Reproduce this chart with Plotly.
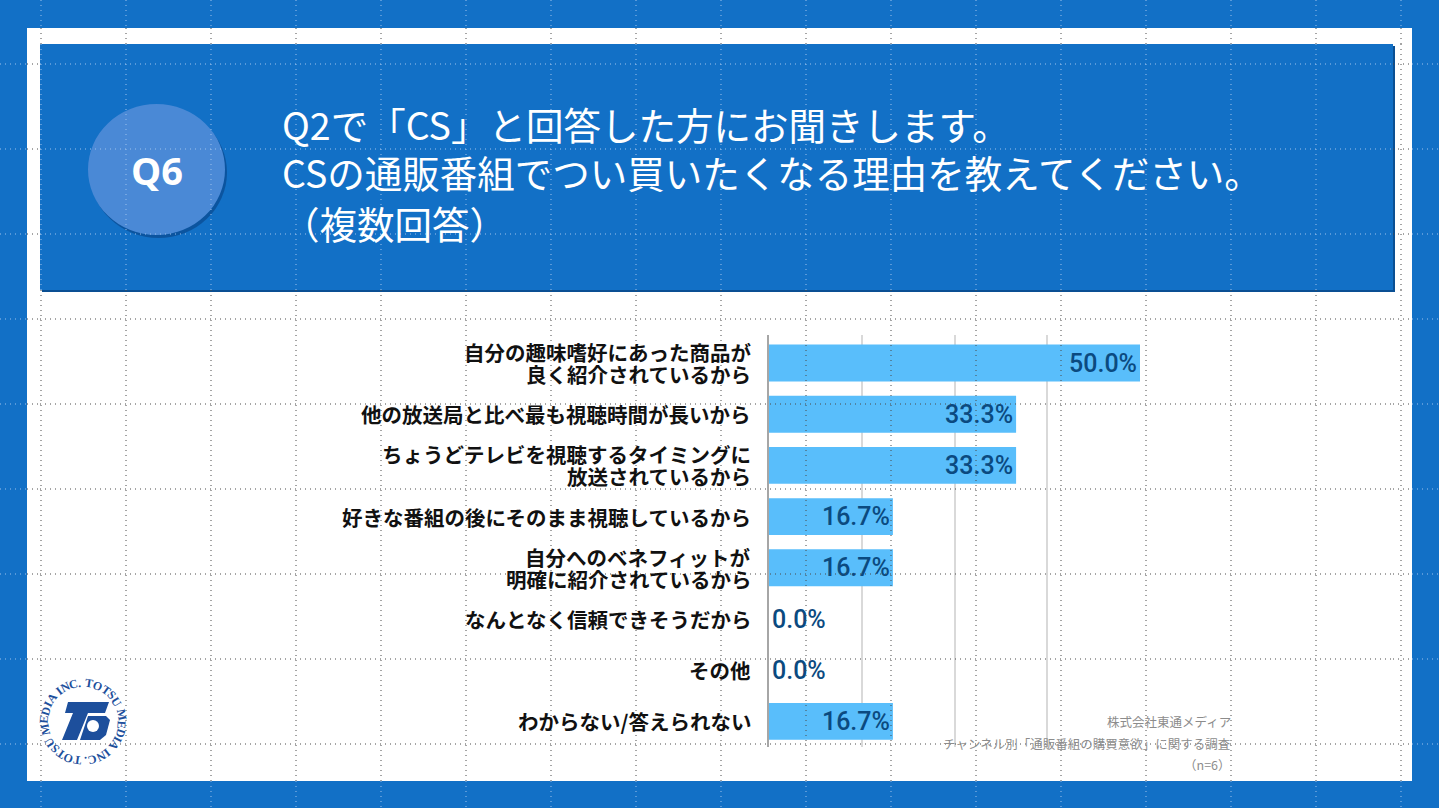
import math
import plotly.graph_objects as go

# ---------------- data ----------------
categories = [
    "自分の趣味嗜好にあった商品が<br>良く紹介されているから",
    "他の放送局と比べ最も視聴時間が長いから",
    "ちょうどテレビを視聴するタイミングに<br>放送されているから",
    "好きな番組の後にそのまま視聴しているから",
    "自分へのベネフィットが<br>明確に紹介されているから",
    "なんとなく信頼できそうだから",
    "その他",
    "わからない/答えられない",
]
values = [50.0, 33.3, 33.3, 16.7, 16.7, 0.0, 0.0, 16.7]

badge_text = "Q6"
title_lines = [
    "Q2で「CS」と回答した方にお聞きします。",
    "CSの通販番組でつい買いたくなる理由を教えてください。",
    "（複数回答）",
]
source_lines = [
    "株式会社東通メディア",
    "チャンネル別「通販番組の購買意欲」に関する調査",
    "（n=6）",
]
logo_ring_text = "TOTSU MEDIA INC. TOTSU MEDIA INC. "

# ---------------- helpers (pixel -> paper) ----------------
W, H = 1439, 808


def X(px):
    return px / W


def Y(py):
    return 1 - py / H


BLUE = "#1270C6"
BAR = "#59BEFB"
VAL = "#0B4A80"

shapes = []
annotations = []


def rect(x0, y0, x1, y1, fill, layer="below", line=None):
    shapes.append(dict(type="rect", xref="paper", yref="paper",
                       x0=X(x0), x1=X(x1), y0=Y(y1), y1=Y(y0),
                       fillcolor=fill, line=line or dict(width=0), layer=layer))


def circle(x0, y0, x1, y1, fill, layer="below", line=None):
    shapes.append(dict(type="circle", xref="paper", yref="paper",
                       x0=X(x0), x1=X(x1), y0=Y(y1), y1=Y(y0),
                       fillcolor=fill, line=line or dict(width=0), layer=layer))


def path(points, fill, layer="above"):
    d = "M " + " L ".join(f"{X(a):.5f},{Y(b):.5f}" for a, b in points) + " Z"
    shapes.append(dict(type="path", xref="paper", yref="paper", path=d,
                       fillcolor=fill, line=dict(width=0), layer=layer))


# background white panel and header
rect(27, 28, 1412, 781, "white")
rect(42, 46, 1395, 292, "#0A4F93")
rect(40, 44, 1393, 290, BLUE)
# badge
circle(90, 107, 227, 238, "rgba(5,50,110,0.45)")
circle(88, 104, 225, 235, "#4A89D6")

annotations.append(dict(xref="paper", yref="paper", x=X(157), y=Y(170),
                        text=badge_text, showarrow=False, xanchor="center", yanchor="middle",
                        font=dict(family="Open Sans", size=38, color="white", weight="bold")))

for i, (line, yc) in enumerate(zip(title_lines, [123, 172, 222])):
    annotations.append(dict(xref="paper", yref="paper", x=X(280), y=Y(yc),
                            text=line, showarrow=False, xanchor="left", yanchor="middle",
                            font=dict(family="Noto Sans CJK JP", size=37.5, color="white")))

for line, yc in zip(source_lines, [721, 743, 764]):
    annotations.append(dict(xref="paper", yref="paper", x=X(1233), y=Y(yc),
                            text=line, showarrow=False, xanchor="right", yanchor="middle",
                            font=dict(family="Noto Sans CJK JP", size=12.5, color="#8C8C8C")))

# category labels: placed on the y axis categories, lines spaced tightly like the reference
LINE_GAP = 22
for cat in categories:
    parts = cat.split("<br>")
    n = len(parts)
    for i, part in enumerate(parts):
        annotations.append(dict(xref="paper", yref="y", x=X(753), y=cat,
                                yshift=((n - 1) / 2 - i) * LINE_GAP,
                                text=part, showarrow=False, xanchor="right", yanchor="middle",
                                font=dict(family="Noto Sans CJK JP", size=20.5, color="#111111",
                                          weight="bold")))

# ---------------- logo ----------------
LOGO = "#1D4F9C"
cx, cy, r = 83, 722, 39
wid = {"T": .667, "O": .778, "S": .556, "U": .722, "M": .944, "E": .667, "D": .722,
       "I": .389, "A": .722, "N": .722, "C": .722, ".": .25, " ": .25}
total = sum(wid[c] for c in logo_ring_text)
k = 360.0 / total
start = 8.5 - wid["T"] / 2 * k
cum = 0.0
for c in logo_ring_text:
    w = wid[c]
    th = start + (cum + w / 2) * k
    cum += w
    if c == " ":
        continue
    t = math.radians(th)
    ang = ((th + 180) % 360) - 180
    annotations.append(dict(xref="paper", yref="paper",
                            x=X(cx + r * math.sin(t)), y=Y(cy - r * math.cos(t)),
                            text=c, showarrow=False, xanchor="center", yanchor="middle",
                            textangle=ang,
                            font=dict(family="Liberation Serif", size=12, color=LOGO, weight="bold")))
path([(68, 702), (109, 702), (105, 713), (88, 713), (77, 740), (62, 740), (73, 713), (65, 713)], LOGO)
path([(88, 716), (106, 716), (110, 720), (106, 735), (100, 740), (80, 740)], LOGO)
circle(87, 720, 99, 732, "white", layer="above")

# ---------------- chart ----------------
positions = ["inside" if v > 0 else "outside" for v in values]
fig = go.Figure(go.Bar(
    x=values, y=categories, orientation="h",
    marker=dict(color=BAR, line=dict(width=0)),
    text=[f"{v:.1f}%" for v in values],
    textposition=positions, insidetextanchor="end",
    textfont=dict(family="Roboto", size=25, color=VAL, weight=500),
    cliponaxis=False, hoverinfo="skip",
))

# ---------------- dotted guide grid ----------------
white_rect = (27, 28, 1412, 781)
head_rect = (40, 44, 1393, 290)


def is_white(x, y):
    inside_panel = white_rect[0] <= x <= white_rect[2] and white_rect[1] <= y <= white_rect[3]
    inside_head = head_rect[0] <= x <= head_rect[2] and head_rect[1] <= y <= head_rect[3]
    return inside_panel and not inside_head


def dotted(x0, y0, x1, y1, white):
    shapes.append(dict(type="line", xref="paper", yref="paper",
                       x0=X(x0), x1=X(x1), y0=Y(y0), y1=Y(y1), layer="above",
                       line=dict(color="#4A4A4A" if white else "#9EC2EC", width=1, dash="1px,4px")))


vx = [41 + 85 * i for i in range(17)]
hy = [64 + 85 * i for i in range(9)]
ybreaks = [0, 28, 44, 290, 781, H]
xbreaks = [0, 27, 40, 1393, 1412, W]
for x in vx:
    for a, b in zip(ybreaks[:-1], ybreaks[1:]):
        dotted(x, a, x, b, is_white(x, (a + b) / 2))
for y in hy:
    for a, b in zip(xbreaks[:-1], xbreaks[1:]):
        dotted(a, y, b, y, is_white((a + b) / 2, y))

fig.update_layout(
    width=W, height=H, margin=dict(l=0, r=0, t=0, b=0),
    paper_bgcolor=BLUE, plot_bgcolor="rgba(0,0,0,0)",
    showlegend=False, bargap=0.28,
    shapes=shapes, annotations=annotations,
    xaxis=dict(domain=[X(769), X(1140)], range=[0, 50], tick0=0, dtick=12.5,
               showticklabels=False, showgrid=True, gridcolor="#D9D9D9", gridwidth=1.5,
               zeroline=False, showline=False, fixedrange=True),
    yaxis=dict(domain=[Y(747), Y(335)], autorange="reversed", showline=True,
               linecolor="#A6A6A6", linewidth=2, ticks="", showticklabels=False,
               showgrid=False, zeroline=False, fixedrange=True),
)

fig.write_html("out.html", config={"displayModeBar": False},
               post_script="document.body.style.margin='0';document.body.style.background='" + BLUE + "';")
